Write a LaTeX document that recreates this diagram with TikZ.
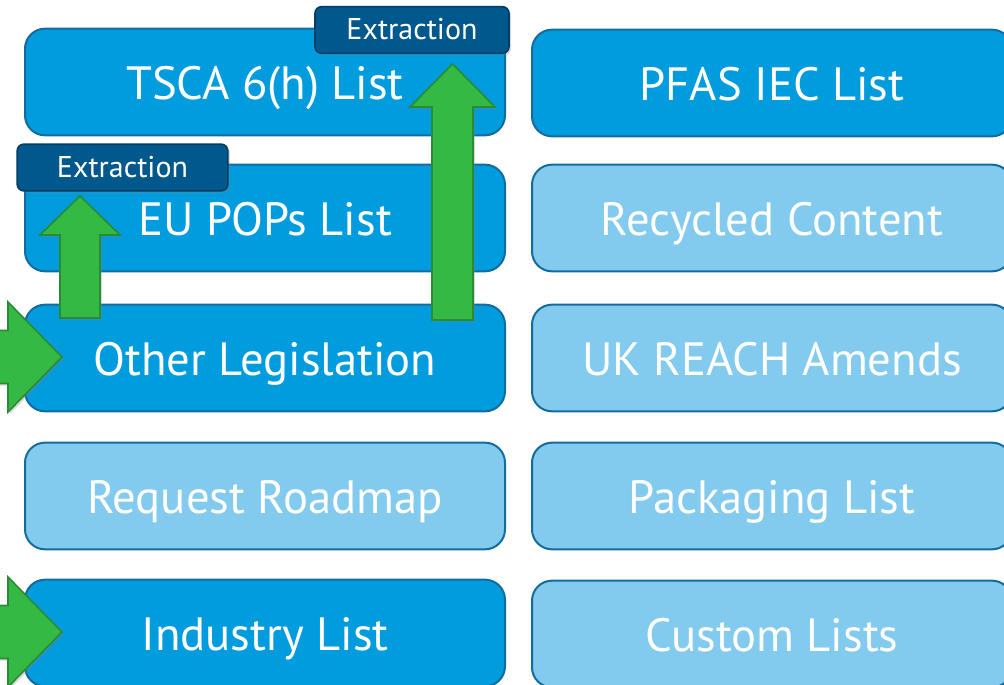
\documentclass[tikz,border=0pt]{standalone}
\usepackage{fontspec}
\setmainfont{PT Sans}
\usetikzlibrary{shadows, calc}
\definecolor{bluScuro}{RGB}{0,156,222}
\definecolor{bluChiaro}{RGB}{130,203,238}
\definecolor{bordoBlu}{RGB}{18,108,160}
\definecolor{bluTag}{RGB}{0,88,140}
\definecolor{bordoTag}{RGB}{0,62,102}
\definecolor{verdeFreccia}{RGB}{52,185,68}
\definecolor{bordoVerde}{RGB}{42,140,50}
\newcommand{\testoLista}{\fontsize{35}{40}\selectfont}
\newcommand{\testoTag}{\fontsize{22.5}{26}\selectfont}

\begin{document}
\begin{tikzpicture}[x = 0.75pt, y = -0.75pt,
    lista/.style = {draw = bordoBlu, line width = 1.5pt, rounded corners = 15pt,
        minimum width = 360pt, minimum height = 80pt, inner sep = 0pt,
        text height = 26.7pt, text depth = 0pt, text = white, font = \testoLista},
    piena/.style = {lista, fill = bluScuro},
    chiara/.style = {lista, fill = bluChiaro},
    tag/.style = {draw = bordoTag, line width = 1.2pt, fill = bluTag, rounded corners = 5pt,
        minimum height = 35pt, inner sep = 0pt, text height = 14.3pt, text depth = 0pt,
        text = white, font = \testoTag,
        drop shadow = {shadow xshift = 1.5pt, shadow yshift = -1.5pt, opacity = 0.3}},
    freccia/.style = {draw = bordoVerde, line width = 1.2pt, fill = verdeFreccia, line join = miter,
        drop shadow = {shadow xshift = 1.5pt, shadow yshift = -1.5pt, opacity = 0.3}}]
    % Cornice
    \useasboundingbox (0,0) rectangle (1004,685);
    \clip (0,0) rectangle (1004,685);
    % Colonna sinistra
    \node[piena] (tsca) at (265,82) {TSCA 6(h) List};
    \node[piena] (pops) at (265,218) {EU POPs List};
    \node[piena] (altre) at (265,358) {Other Legislation};
    \node[chiara] (roadmap) at (265,496) {Request Roadmap};
    \node[piena] (industria) at (265,633) {Industry List};
    % Colonna destra
    \node[piena] (pfas) at (772,83) {PFAS IEC List};
    \node[chiara] (riciclato) at (772,218) {Recycled Content};
    \node[chiara] (ukreach) at (772,358) {UK REACH Amends};
    \node[chiara] (imballaggi) at (772,496) {Packaging List};
    \node[chiara] (custom) at (772,634) {Custom Lists};
    % Freccia grande (Other Legislation -> TSCA)
    \coordinate (a1) at (432,320);
    \coordinate (a2) at (432,107);
    \coordinate (a3) at (410,107);
    \coordinate (a4) at (452.5,64);
    \coordinate (a5) at (495,107);
    \coordinate (a6) at (473,107);
    \coordinate (a7) at (473,320);
    \draw[freccia] (a1) -- (a2) -- (a3) -- (a4) -- (a5) -- (a6) -- (a7) -- cycle;
    % Freccia piccola (Other Legislation -> EU POPs)
    \coordinate (b1) at (60,318);
    \coordinate (b2) at (60,235);
    \coordinate (b3) at (40,235);
    \coordinate (b4) at (80,196);
    \coordinate (b5) at (120,235);
    \coordinate (b6) at (100,235);
    \coordinate (b7) at (100,318);
    \draw[freccia] (b1) -- (b2) -- (b3) -- (b4) -- (b5) -- (b6) -- (b7) -- cycle;
    % Frecce in ingresso da sinistra
    \foreach \yc/\nome in {357/c, 632/d}{
        \coordinate (\nome1) at (-10,{\yc-26.5});
        \coordinate (\nome2) at (8,{\yc-26.5});
        \coordinate (\nome3) at (8,{\yc-55});
        \coordinate (\nome4) at (62,\yc);
        \coordinate (\nome5) at (8,{\yc+55});
        \coordinate (\nome6) at (8,{\yc+26.5});
        \coordinate (\nome7) at (-10,{\yc+26.5});
        \draw[freccia] (\nome1) -- (\nome2) -- (\nome3) -- (\nome4) -- (\nome5) -- (\nome6) -- (\nome7) -- cycle;
    }
    % Etichette
    \node[tag, minimum width = 145.5pt] (estr1) at (412,30) {Extraction};
    \node[tag, minimum width = 158pt] (estr2) at (122.5,167.5) {Extraction};
\end{tikzpicture}
\end{document}
